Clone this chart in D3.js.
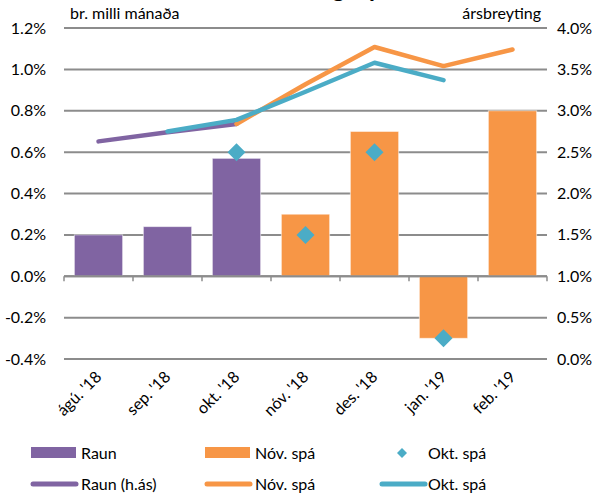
<!DOCTYPE html>
<html><head><meta charset="utf-8">
<script src="https://cdn.jsdelivr.net/npm/d3@7"></script>
<style>
body{margin:0;background:#fff;}
text{font-family:Lato,"Open Sans",sans-serif;fill:#000;}
</style></head>
<body><svg id="c" width="602" height="498"></svg>
<script>
const categories = ["ágú. '18","sep. '18","okt. '18","nóv. '18","des. '18","jan. '19","feb. '19"];
const barRaun   = [0.20, 0.24, 0.57, null, null, null, null];
const barNov    = [null, null, null, 0.30, 0.70, -0.30, 0.80];
const diamondOkt = [null, null, 0.60, 0.20, 0.60, -0.30, null];
const lineRaun  = [2.63, 2.74, 2.84, null, null, null, null];
const lineNov   = [null, null, 2.84, 3.32, 3.77, 3.54, 3.74];
const lineOkt   = [null, 2.75, 2.89, 3.23, 3.58, 3.37, null];
const leftTicks  = [-0.4,-0.2,0,0.2,0.4,0.6,0.8,1.0,1.2];
const rightTicks = [0,0.5,1,1.5,2,2.5,3,3.5,4];

const purple="#8064A2", orange="#F79646", teal="#4BACC6";
const svg=d3.select("#c");
const L=64,R=547,T=28,B=359;
const FS="16px";
const x=d3.scaleBand().domain(categories).range([L,R]).paddingInner(0.3).paddingOuter(0.15);
const xb=d3.scaleBand().domain(categories).range([L,R]);
const yL=d3.scaleLinear().domain([-0.4,1.2]).range([B,T]);
const yR=d3.scaleLinear().domain([0,4]).range([B,T]);

// title (cut off at top, as in the reference)
svg.append("text").attr("x",322).attr("y",-3).attr("text-anchor","middle")
  .style("font-size","24px").style("font-weight","bold").text("Verðbólguspá");

// gridlines
svg.append("g").selectAll("line").data(leftTicks).join("line")
  .attr("x1",L).attr("x2",R).attr("y1",d=>yL(d)).attr("y2",d=>yL(d))
  .attr("stroke","#8c8c8c").attr("stroke-width",2);

// axis labels
svg.append("g").selectAll("text").data(leftTicks).join("text")
  .attr("x",46).attr("y",d=>yL(d)+5.5).attr("text-anchor","end")
  .style("font-size",FS).text(d=>d.toFixed(1)+"%");
svg.append("g").selectAll("text").data(rightTicks).join("text")
  .attr("x",557).attr("y",d=>yR(d)+5.5).attr("text-anchor","start")
  .style("font-size",FS).text(d=>d.toFixed(1)+"%");

// bars
function bars(data,color){
  svg.append("g").selectAll("rect").data(categories.map((c,i)=>({c,v:data[i]})).filter(d=>d.v!=null))
    .join("rect")
    .attr("x",d=>x(d.c)).attr("width",x.bandwidth())
    .attr("y",d=>Math.min(yL(d.v),yL(0))).attr("height",d=>Math.abs(yL(d.v)-yL(0)))
    .attr("fill",color).attr("stroke","rgba(255,255,255,0.55)").attr("stroke-width",1);
}
bars(barRaun,purple); bars(barNov,orange);

// x axis line & ticks
const ax=svg.append("g");
ax.append("line").attr("x1",L).attr("x2",R).attr("y1",yL(0)).attr("y2",yL(0)).attr("stroke","#8c8c8c").attr("stroke-width",2);
const bounds=categories.map(c=>xb(c)).concat([R]);
ax.selectAll(".tk").data(bounds).join("line").attr("class","tk")
  .attr("x1",d=>d).attr("x2",d=>d).attr("y1",yL(0)).attr("y2",yL(0)+5)
  .attr("stroke","#8c8c8c").attr("stroke-width",1.5);

// lines
function line(data,color){
  const pts=categories.map((c,i)=>({c,v:data[i]})).filter(d=>d.v!=null);
  svg.append("path").datum(pts)
    .attr("d",d3.line().x(d=>xb(d.c)+xb.bandwidth()/2).y(d=>yR(d.v)))
    .attr("fill","none").attr("stroke",color).attr("stroke-width",4.5)
    .attr("stroke-linecap","round").attr("stroke-linejoin","round");
}
line(lineRaun,purple); line(lineNov,orange); line(lineOkt,teal);

// diamonds
svg.append("g").selectAll("path").data(categories.map((c,i)=>({c,v:diamondOkt[i]})).filter(d=>d.v!=null))
  .join("path")
  .attr("transform",d=>`translate(${xb(d.c)+xb.bandwidth()/2},${yL(d.v)})`)
  .attr("d","M0,-9L9,0L0,9L-9,0Z").attr("fill",teal);

// x labels
svg.append("g").selectAll("text").data(categories).join("text")
  .attr("transform",c=>`translate(${xb(c)+xb.bandwidth()/2+4},${B+19}) rotate(-45)`)
  .attr("text-anchor","end").style("font-size",FS).text(c=>c);

// axis titles
svg.append("text").attr("x",70).attr("y",19).style("font-size",FS).text("br. milli mánaða");
svg.append("text").attr("x",541).attr("y",19).attr("text-anchor","end").style("font-size",FS).text("ársbreyting");

// legend
const lg=svg.append("g").style("font-size",FS);
const rowY=[453,484];
lg.append("rect").attr("x",31).attr("y",447).attr("width",45).attr("height",11).attr("fill",purple);
lg.append("text").attr("x",81).attr("y",rowY[0]+5.5).text("Raun");
lg.append("rect").attr("x",205).attr("y",447).attr("width",45).attr("height",11).attr("fill",orange);
lg.append("text").attr("x",255).attr("y",rowY[0]+5.5).text("Nóv. spá");
lg.append("path").attr("transform",`translate(402,${rowY[0]})`).attr("d","M0,-5L5,0L0,5L-5,0Z").attr("fill",teal);
lg.append("text").attr("x",428).attr("y",rowY[0]+5.5).text("Okt. spá");
[[31,purple,"Raun (h.ás)",81],[205,orange,"Nóv. spá",255],[380,teal,"Okt. spá",428]].forEach(([x0,col,t,tx])=>{
  lg.append("line").attr("x1",x0+2).attr("x2",x0+45).attr("y1",rowY[1]).attr("y2",rowY[1])
    .attr("stroke",col).attr("stroke-width",5).attr("stroke-linecap","round");
  lg.append("text").attr("x",tx).attr("y",rowY[1]+5.5).text(t);
});
</script></body></html>
